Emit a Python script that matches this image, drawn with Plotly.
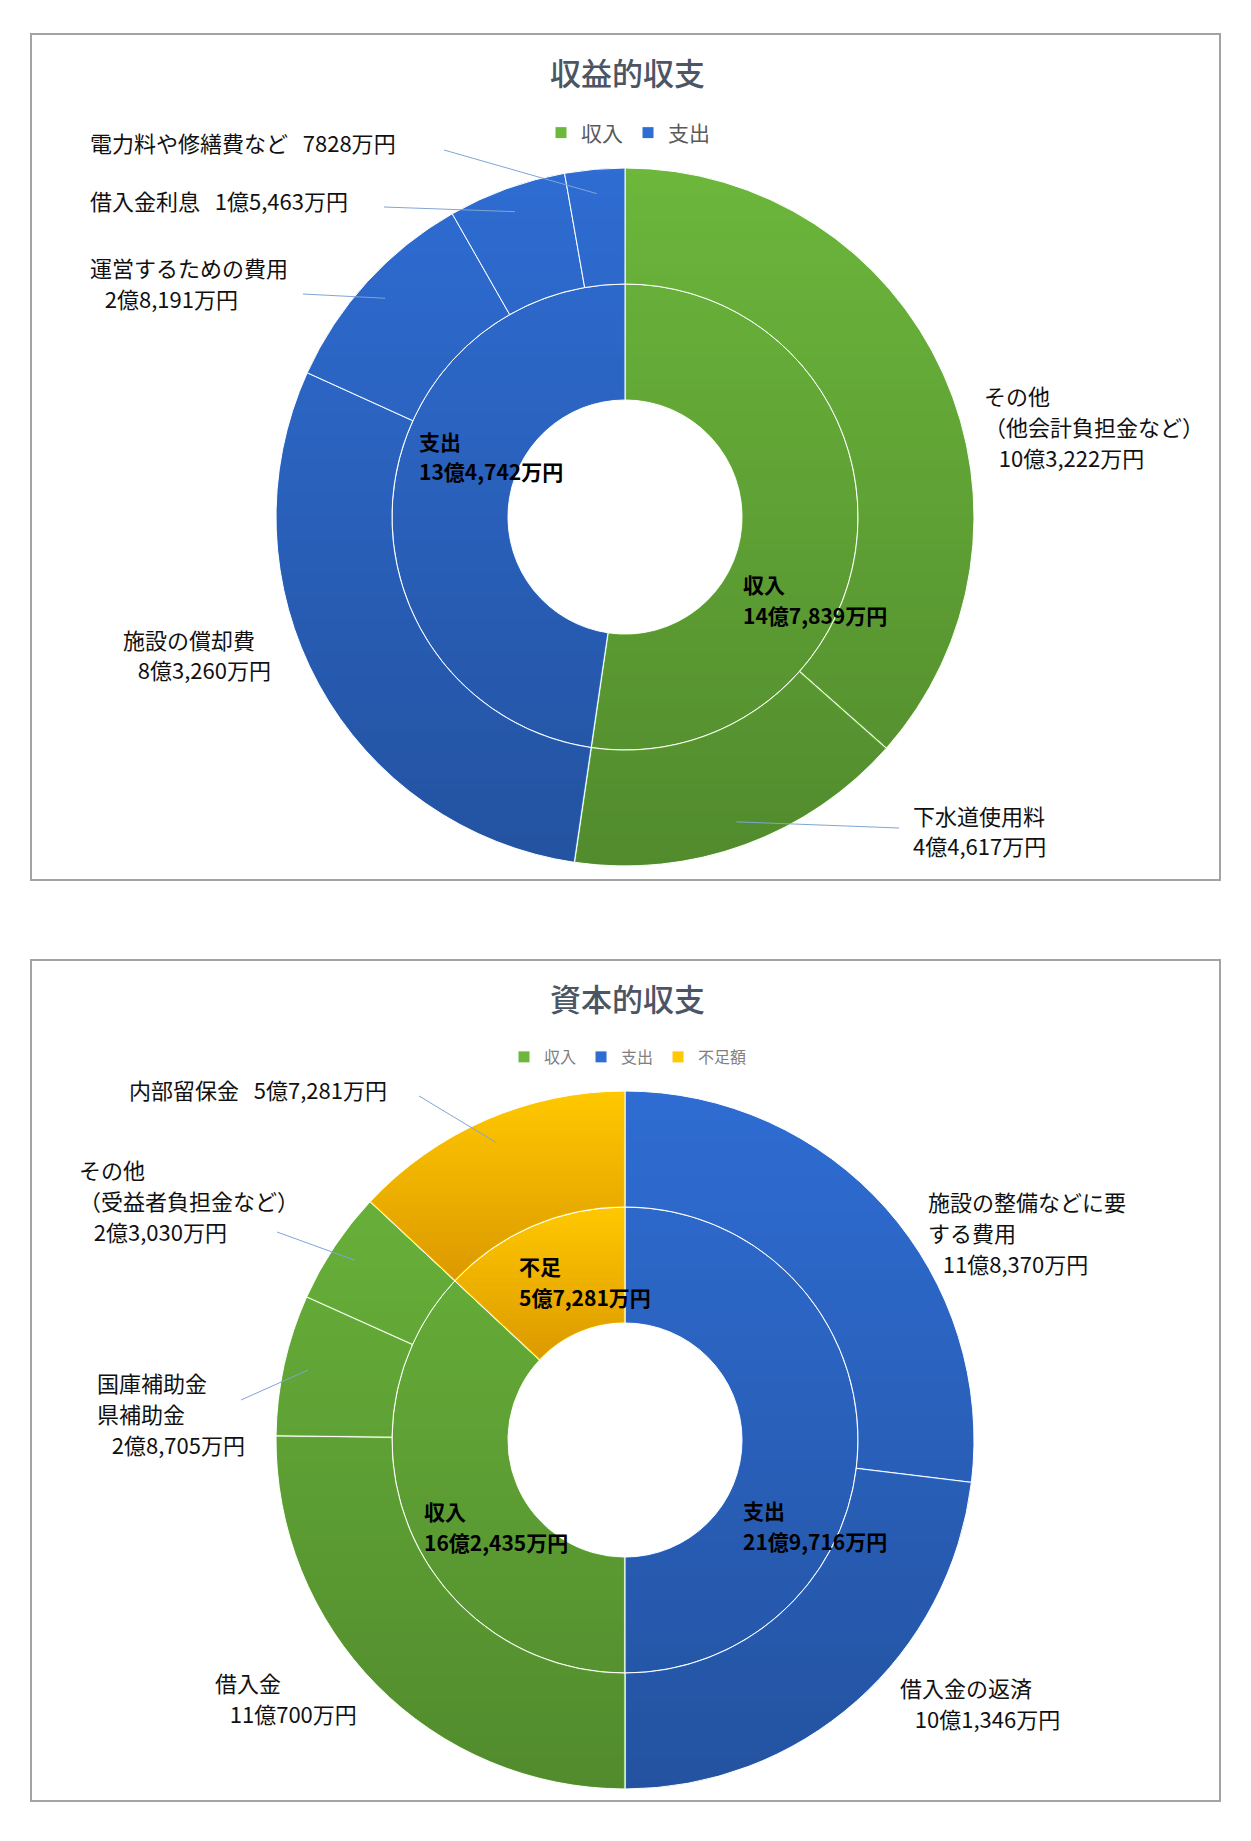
import base64
import struct
import zlib

import numpy as np
import plotly.graph_objects as go

W, H = 1251, 1841

# ---------------- data (単位：万円) ----------------
rev_title = "収益的収支"
rev_inner_labels = ["収入", "支出"]
rev_inner_values = [147839, 134742]
rev_outer_names = [["その他", "（他会計負担金など）"], ["下水道使用料"], ["施設の償却費"],
                   ["運営するための費用"], ["借入金利息"], ["電力料や修繕費など"]]
rev_outer_values = [103222, 44617, 83260, 28191, 15463, 7828]
rev_outer_groups = ["収入", "収入", "支出", "支出", "支出", "支出"]

cap_title = "資本的収支"
cap_inner_labels = ["収入", "支出", "不足額"]
cap_inner_short = ["収入", "支出", "不足"]
cap_inner_values = [162435, 219716, 57281]
cap_outer_names = [["施設の整備などに要", "する費用"], ["借入金の返済"], ["借入金"],
                   ["国庫補助金", "県補助金"], ["その他", "（受益者負担金など）"], ["内部留保金"]]
cap_outer_values = [118370, 101346, 110700, 28705, 23030, 57281]
cap_outer_groups = ["支出", "支出", "収入", "収入", "収入", "不足額"]

# ---------------- styles / layout ----------------
COLORS = {"収入": "#6cb73c", "支出": "#2f6dd3", "不足額": "#ffc800"}
FONT = "Noto Sans CJK JP"
R_OUT, R_MID, R_HOLE = 349, 233, 117
NB = "\u00a0\u00a0\u00a0"
ZW = "\u200b"  # keeps legend entries of the second chart distinct from the first

rev_center = (625, 517)
cap_center = (625, 1440)
rev_panel = (31, 34, 1220, 880)
cap_panel = (31, 960, 1220, 1801)
rev_title_pos = (628, 72)
cap_title_pos = (628, 997)
rev_legend_pos = (628, 133)
cap_legend_pos = (628, 1057)
rev_inner_pos = [(743, 599), (419, 456)]
cap_inner_pos = [(424, 1526), (743, 1525), (519, 1281)]
rev_outer_pos = [
    dict(x=984, y=426, indent=True),
    dict(x=913, y=830, indent=False, leader=(899, 828)),
    dict(x=123, y=654, indent=True),
    dict(x=90, y=282, indent=True, leader=(303, 294)),
    dict(x=90, y=200, inline=True, leader=(384, 207)),
    dict(x=90, y=142, inline=True, leader=(444, 150)),
]
cap_outer_pos = [
    dict(x=928, y=1232, indent=True),
    dict(x=900, y=1702, indent=True),
    dict(x=215, y=1697, indent=True),
    dict(x=97, y=1413, indent=True, leader=(241, 1400)),
    dict(x=79, y=1200, indent=True, leader=(277, 1232)),
    dict(x=129, y=1089, inline=True, leader=(419, 1096)),
]


def fmt(v):
    if v >= 10000:
        return f"{v // 10000}億{v % 10000:,}万円"
    return f"{v}万円"


def dom(center, r):
    cx, cy = center
    return dict(x=[(cx - r) / W, (cx + r) / W], y=[1 - (cy + r) / H, 1 - (cy - r) / H])


def slice_angles(values, rotation=0.0, direction="clockwise"):
    """Replicates plotly's pie slice angle logic (degrees clockwise from 12 o'clock)."""
    f = 360.0 / sum(values)
    cur = rotation
    if direction == "counterclockwise":
        cur += f * values[0]
        f = -f
    out = []
    for v in values:
        a0 = cur
        cur += f * v
        out.append((a0, cur))
    return out


def px(x, y):
    return x / W, 1 - y / H


def png_uri(rgba):
    h, w, _ = rgba.shape
    raw = b"".join(b"\x00" + rgba[i].tobytes() for i in range(h))

    def chunk(tag, data):
        return (struct.pack(">I", len(data)) + tag + data
                + struct.pack(">I", zlib.crc32(tag + data) & 0xFFFFFFFF))

    png = (b"\x89PNG\r\n\x1a\n"
           + chunk(b"IHDR", struct.pack(">IIBBBBB", w, h, 8, 6, 0, 0, 0))
           + chunk(b"IDAT", zlib.compress(raw, 6))
           + chunk(b"IEND", b""))
    return "data:image/png;base64," + base64.b64encode(png).decode()


def shading(rings):
    """Vertical gradient shading overlay for the donut rings."""
    S = 2 * R_OUT
    yy, xx = np.mgrid[0:S, 0:S].astype(float) + 0.5
    dx, dy = xx - R_OUT, yy - R_OUT
    d = np.hypot(dx, dy)
    ang = np.degrees(np.arctan2(dx, -dy)) % 360
    alpha = np.zeros((S, S))
    col = np.zeros((S, S, 3))
    for r_in, r_out, spans, groups in rings:
        cov = np.clip(r_out - 0.8 - d + 0.5, 0, 1) * np.clip(d - r_in - 0.8 + 0.5, 0, 1)
        for a0, _ in spans:
            delta = np.radians(ang - a0)
            dist = np.abs(d * np.sin(delta))
            near = (np.cos(delta) > 0) & (d > r_in - 2) & (d < r_out + 2)
            cov = np.where(near, cov * np.clip(dist - 0.7, 0, 1), cov)
        for (a0, a1), g in zip(spans, groups):
            lo, hi = min(a0, a1), max(a0, a1)
            inside = (((ang - lo) % 360) < (hi - lo)) & (d >= r_in) & (d <= r_out)
            if g == "不足額":
                ys = yy[inside]
                t = np.clip((yy - ys.min()) / (ys.max() - ys.min()), 0, 1)
                a = 0.45 * t
                c = np.array([176, 96, 0])
            else:
                a = 0.24 * yy / S
                c = np.array([0, 0, 0])
            m = inside & (cov > 0)
            alpha = np.where(m, a * cov, alpha)
            col[m] = c
    rgba = np.zeros((S, S, 4), dtype=np.uint8)
    rgba[..., :3] = col.astype(np.uint8)
    rgba[..., 3] = np.clip(np.round(alpha * 255), 0, 255).astype(np.uint8)
    return png_uri(rgba)


fig = go.Figure()
annotations = []
shapes = []
images = []


def text_block(lines, x, yc, size, bold=False, color="#111111", spacing=31):
    n = len(lines)
    for i, line in enumerate(lines):
        y = yc + (i - (n - 1) / 2) * spacing
        xx, yy = px(x, y)
        annotations.append(dict(
            x=xx, y=yy, xref="paper", yref="paper", showarrow=False,
            xanchor="left", yanchor="middle", borderpad=0, borderwidth=0,
            text=f"<b>{line}</b>" if bold else line,
            font=dict(family=FONT, size=size, color=color)))


def build(center, panel, title, title_pos, legend_name, legend_pos, legend_font, suffix,
          inner_labels, inner_short, inner_values, inner_rot, inner_dir, inner_pos,
          outer_names, outer_values, outer_groups, outer_pos):
    # panel border
    x0, y0, x1, y1 = panel
    shapes.append(dict(type="rect", xref="paper", yref="paper",
                       x0=x0 / W, x1=x1 / W, y0=1 - y1 / H, y1=1 - y0 / H,
                       line=dict(color="#a3a3a3", width=2), fillcolor="rgba(0,0,0,0)"))
    # rings
    fig.add_trace(go.Pie(
        labels=[l + suffix for l in inner_labels], values=inner_values, sort=False,
        direction=inner_dir, rotation=inner_rot, hole=R_HOLE / R_MID,
        domain=dom(center, R_MID),
        marker=dict(colors=[COLORS[l] for l in inner_labels], line=dict(color="white", width=1)),
        textinfo="none", hoverinfo="label+value", showlegend=True, legend=legend_name))
    outer_labels = ["".join(n) + suffix for n in outer_names]
    fig.add_trace(go.Pie(
        labels=outer_labels, values=outer_values, sort=False,
        direction="clockwise", rotation=0, hole=R_MID / R_OUT,
        domain=dom(center, R_OUT),
        marker=dict(colors=[COLORS[g] for g in outer_groups], line=dict(color="white", width=1)),
        textinfo="none", hoverinfo="label+value", showlegend=False, legend=legend_name))

    inner_spans = slice_angles(inner_values, inner_rot, inner_dir)
    outer_spans = slice_angles(outer_values, 0, "clockwise")

    # gradient shading
    uri = shading([(R_HOLE, R_MID, inner_spans, inner_labels),
                   (R_MID, R_OUT, outer_spans, outer_groups)])
    cx, cy = center
    images.append(dict(source=uri, xref="paper", yref="paper",
                       x=(cx - R_OUT) / W, y=1 - (cy - R_OUT) / H,
                       sizex=2 * R_OUT / W, sizey=2 * R_OUT / H,
                       xanchor="left", yanchor="top", sizing="stretch", layer="above"))

    # title
    tx, ty = px(*title_pos)
    annotations.append(dict(x=tx, y=ty, xref="paper", yref="paper", showarrow=False,
                            text=title, xanchor="center", yanchor="middle",
                            font=dict(family=FONT, size=31, color="#4b5563", weight=500)))
    # legend
    lx, ly = px(*legend_pos)
    fig.update_layout({legend_name: dict(
        orientation="h", x=lx, xanchor="center", y=ly, yanchor="middle",
        bgcolor="rgba(0,0,0,0)", font=legend_font, itemclick=False, itemdoubleclick=False)})

    # inner labels
    for short, v, (x, y) in zip(inner_short, inner_values, inner_pos):
        text_block([short, fmt(v)], x, y, 21, bold=True, color="#000000")

    # outer labels with leader lines
    for names, v, spec, (a0, a1) in zip(outer_names, outer_values, outer_pos, outer_spans):
        if spec.get("inline"):
            lines = [names[0] + NB + fmt(v)]
        else:
            lines = list(names) + [(NB if spec.get("indent") else "") + fmt(v)]
        text_block(lines, spec["x"], spec["y"], 22)
        if spec.get("leader"):
            mid = np.radians((a0 + a1) / 2)
            tipx = cx + 0.93 * R_OUT * np.sin(mid)
            tipy = cy - 0.93 * R_OUT * np.cos(mid)
            sx, sy = spec["leader"]
            shapes.append(dict(type="line", xref="paper", yref="paper",
                               x0=sx / W, y0=1 - sy / H, x1=tipx / W, y1=1 - tipy / H,
                               line=dict(color="#7fa6d6", width=1), layer="above"))


build(rev_center, rev_panel, rev_title, rev_title_pos, "legend", rev_legend_pos,
      dict(family=FONT, size=21, color="#595959"), "",
      rev_inner_labels, rev_inner_labels, rev_inner_values, 0, "clockwise", rev_inner_pos,
      rev_outer_names, rev_outer_values, rev_outer_groups, rev_outer_pos)

build(cap_center, cap_panel, cap_title, cap_title_pos, "legend2", cap_legend_pos,
      dict(family=FONT, size=16, color="#808080"), ZW,
      cap_inner_labels, cap_inner_short, cap_inner_values, 180, "counterclockwise", cap_inner_pos,
      cap_outer_names, cap_outer_values, cap_outer_groups, cap_outer_pos)

fig.update_layout(
    width=W, height=H, autosize=False,
    margin=dict(l=0, r=0, t=0, b=0),
    paper_bgcolor="white", plot_bgcolor="white",
    font=dict(family=FONT),
    annotations=annotations, shapes=shapes, images=images,
)

fig.write_html("out.html")
